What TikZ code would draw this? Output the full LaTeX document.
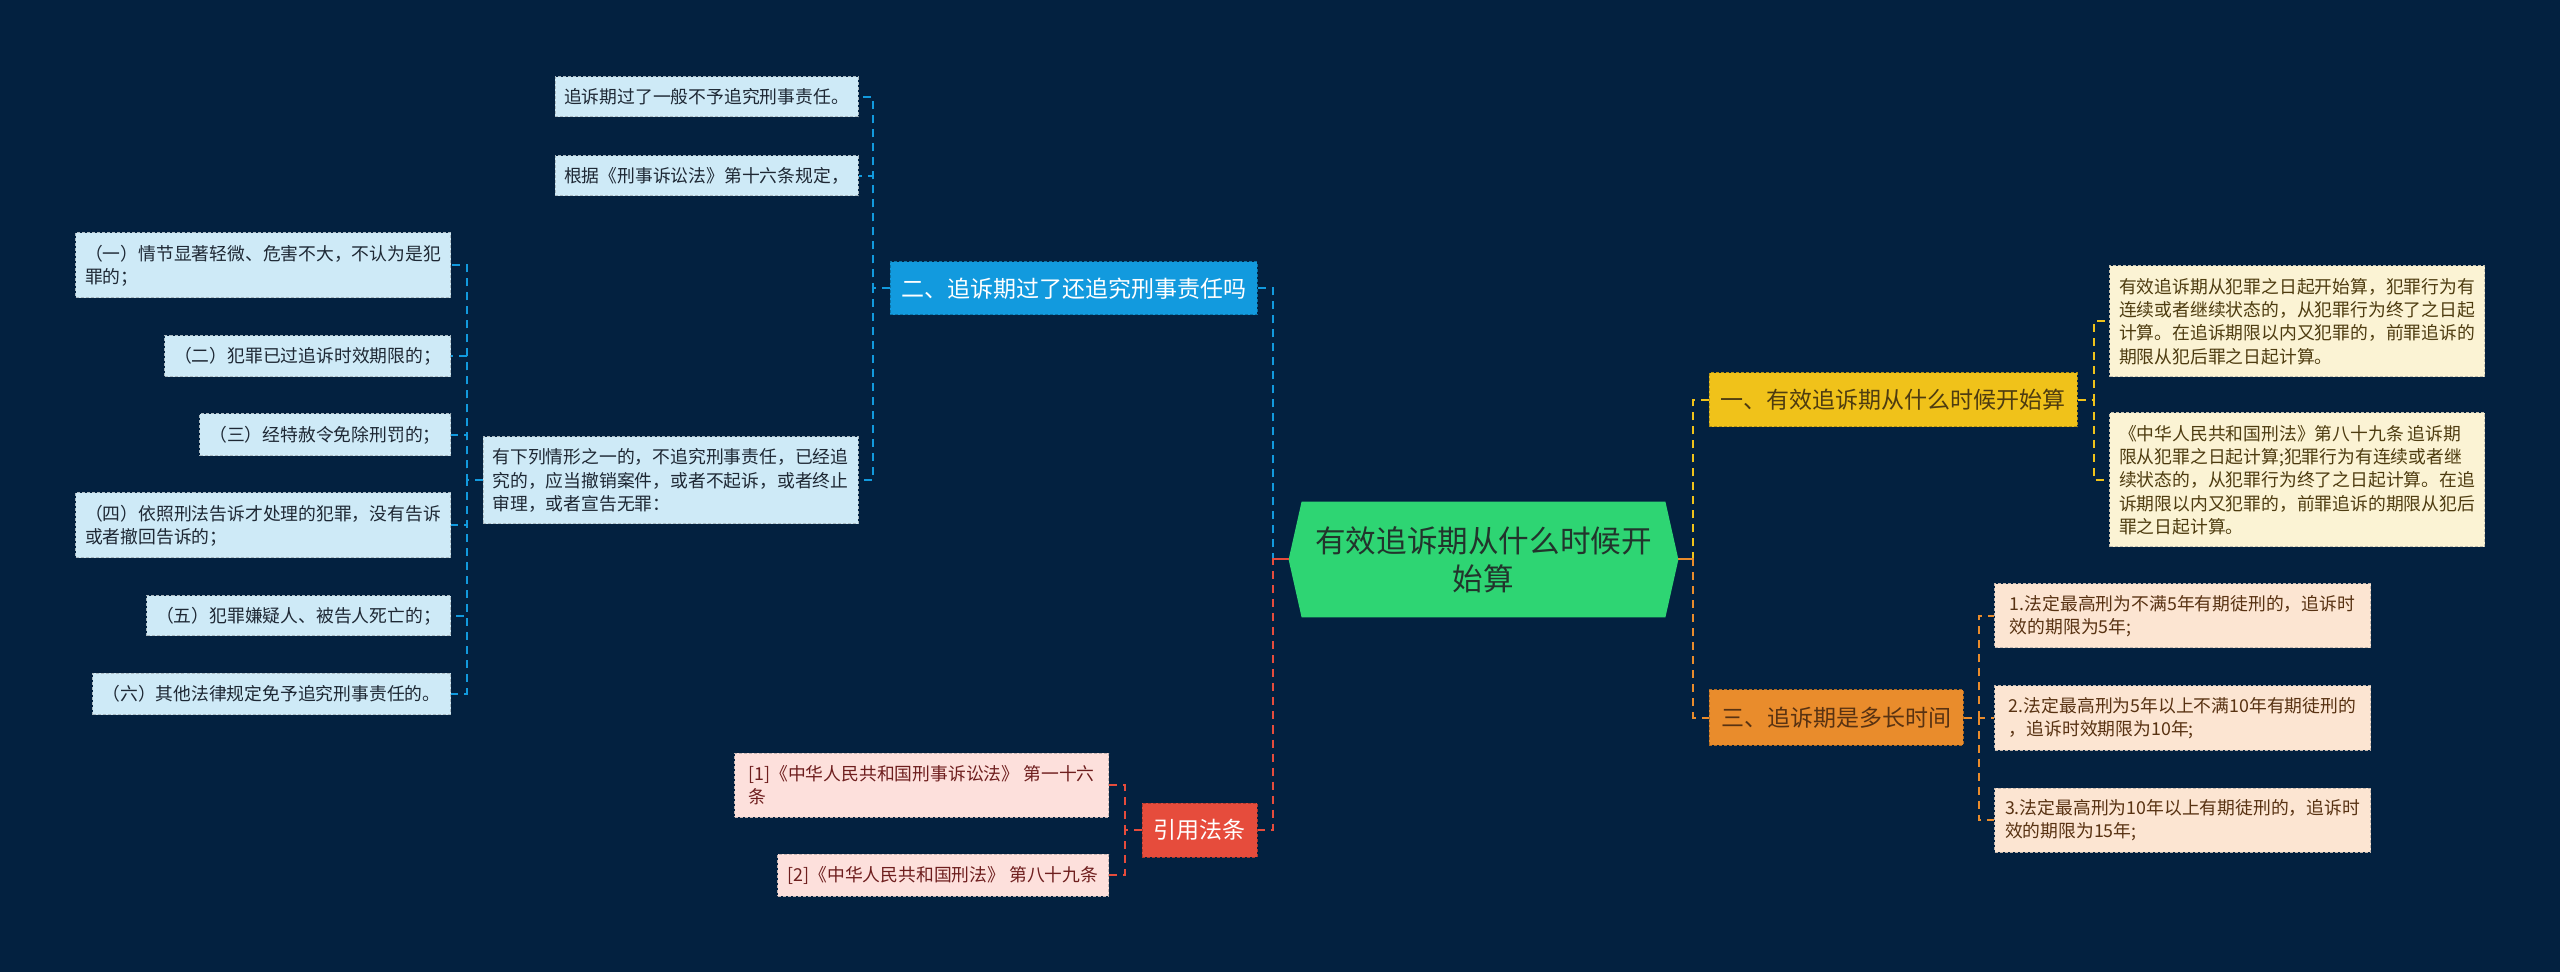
\documentclass[tikz,border=0pt]{standalone}
\usepackage{fontspec}
\setmainfont{Noto Sans CJK SC}
\usepackage{tikz}
\usetikzlibrary{backgrounds,calc}
\definecolor{navybg}{RGB}{3,33,64}
\definecolor{rootgreen}{RGB}{46,213,115}
\definecolor{rootink}{RGB}{34,52,44}
\definecolor{bluebranch}{RGB}{18,154,222}
\definecolor{blueleaf}{RGB}{206,234,247}
\definecolor{blueink}{RGB}{30,40,52}
\definecolor{yellowbranch}{RGB}{240,194,26}
\definecolor{yellowleaf}{RGB}{251,243,212}
\definecolor{yellowink}{RGB}{78,60,16}
\definecolor{orangebranch}{RGB}{233,140,44}
\definecolor{orangeleaf}{RGB}{252,229,210}
\definecolor{orangeink}{RGB}{88,50,18}
\definecolor{redbranch}{RGB}{230,76,60}
\definecolor{redleaf}{RGB}{253,224,220}
\definecolor{redink}{RGB}{110,30,30}
\tikzset{
  base/.style={align=left, inner sep=0pt, rectangle},
  rootbox/.style={base, align=center, text=rootink, minimum width=194.5pt, minimum height=57.5pt, font=\fontsize{15.3}{19}\selectfont},
  branch/.style={base, draw=#1!75!black, fill=#1, dash pattern=on 1.5pt off 1pt, line width=0.5pt, minimum height=27pt, font=\fontsize{11.5}{14}\selectfont},
  leaf/.style={base, draw=#1!55!gray, fill=#1, dash pattern=on 1.5pt off 1pt, line width=0.5pt, font=\fontsize{8.9}{11.65}\selectfont},
  bleaf/.style={leaf=blueleaf, text=blueink},
  yleaf/.style={leaf=yellowleaf, text=yellowink},
  oleaf/.style={leaf=orangeleaf, text=orangeink},
  rleaf/.style={leaf=redleaf, text=redink},
  link/.style={draw=#1, line width=1pt, dash pattern=on 4pt off 3pt},
  stub/.style={draw=#1, line width=1pt},
}
\begin{document}
\begin{tikzpicture}[x=0.5pt,y=-0.5pt]
  \useasboundingbox (0,0) rectangle (2560,972);
  \begin{scope}[on background layer]
    \fill[navybg] (0,0) rectangle (2560,972);
  \end{scope}
  \node[rootbox] (root) at (1483.5,559.5) {有效追诉期从什么时候开\\始算};
  \begin{scope}[on background layer]
    \fill[rootgreen] (root.west) -- ([xshift=6.5pt]root.north west) -- ([xshift=-6.5pt]root.north east) -- (root.east)
      -- ([xshift=-6.5pt]root.south east) -- ([xshift=6.5pt]root.south west) -- cycle;
  \end{scope}

  \node[branch=bluebranch, text=white, minimum width=183.5pt, minimum height=26.5pt] (q2) at (1073.5,288.5) {二、追诉期过了还追究刑事责任吗};
  \node[branch=redbranch, text=white, minimum width=57.5pt] (cite) at (1199.5,830) {引用法条};
  \node[branch=yellowbranch, text=yellowink, minimum width=184pt] (q1) at (1893,400) {一、有效追诉期从什么时候开始算};
  \node[branch=orangebranch, text=orangeink, minimum width=127pt, minimum height=27.5pt] (q3) at (1836,717.5) {三、追诉期是多长时间};

  \node[bleaf, minimum width=151.5pt, minimum height=20pt] (b1) at (706.5,97) {追诉期过了一般不予追究刑事责任。};
  \node[bleaf, minimum width=151.5pt, minimum height=20pt] (b2) at (706.5,176) {根据《刑事诉讼法》第十六条规定，};
  \node[bleaf, minimum width=187.5pt, minimum height=43.5pt] (b3) at (670.5,480.5) {有下列情形之一的，不追究刑事责任，已经追\\究的，应当撤销案件，或者不起诉，或者终止\\审理，或者宣告无罪：};
  \node[bleaf, anchor=east, minimum width=187.5pt, minimum height=32.5pt] (c1) at (451,265.5) {（一）情节显著轻微、危害不大，不认为是犯\\罪的；};
  \node[bleaf, anchor=east, minimum width=143pt, minimum height=20.5pt] (c2) at (451,356.5) {（二）犯罪已过追诉时效期限的；};
  \node[bleaf, anchor=east, minimum width=125.5pt, minimum height=21pt] (c3) at (451,435) {（三）经特赦令免除刑罚的；};
  \node[bleaf, anchor=east, minimum width=187.5pt, minimum height=32.5pt] (c4) at (451,525.5) {（四）依照刑法告诉才处理的犯罪，没有告诉\\或者撤回告诉的；};
  \node[bleaf, anchor=east, minimum width=152pt, minimum height=20pt] (c5) at (451,616) {（五）犯罪嫌疑人、被告人死亡的；};
  \node[bleaf, anchor=east, minimum width=179pt, minimum height=20.5pt] (c6) at (451,694) {（六）其他法律规定免予追究刑事责任的。};

  \node[rleaf, anchor=east, minimum width=187pt, minimum height=32pt] (r1) at (1109,785) {[1]《中华人民共和国刑事诉讼法》 第一十六\\条};
  \node[rleaf, anchor=east, minimum width=165.5pt, minimum height=21pt] (r2) at (1109,875) {[2]《中华人民共和国刑法》 第八十九条};

  \node[yleaf, anchor=west, minimum width=187.5pt, minimum height=55.5pt] (y1) at (2109,321.5) {有效追诉期从犯罪之日起开始算，犯罪行为有\\连续或者继续状态的，从犯罪行为终了之日起\\计算。在追诉期限以内又犯罪的，前罪追诉的\\期限从犯后罪之日起计算。};
  \node[yleaf, anchor=west, minimum width=187.5pt, minimum height=67pt] (y2) at (2109,480) {《中华人民共和国刑法》第八十九条 追诉期\\限从犯罪之日起计算;犯罪行为有连续或者继\\续状态的，从犯罪行为终了之日起计算。在追\\诉期限以内又犯罪的，前罪追诉的期限从犯后\\罪之日起计算。};

  \node[oleaf, anchor=west, minimum width=188pt, minimum height=32pt] (o1) at (1994,616) {1.法定最高刑为不满5年有期徒刑的，追诉时\\效的期限为5年;};
  \node[oleaf, anchor=west, minimum width=188pt, minimum height=32pt] (o2) at (1994,718) {2.法定最高刑为5年以上不满10年有期徒刑的\\，追诉时效期限为10年;};
  \node[oleaf, anchor=west, minimum width=188pt, minimum height=32pt] (o3) at (1994,820) {3.法定最高刑为10年以上有期徒刑的，追诉时\\效的期限为15年;};

  \draw[link=bluebranch] (root.west) -- ++(-16,0) |- (q2.east);
  \draw[link=redbranch] (root.west) -- ++(-16,0) |- (cite.east);
  \draw[stub=redbranch] (root.west) -- ++(-16,0);
  \draw[link=yellowbranch] (root.east) -- ++(15,0) |- (q1.west);
  \draw[link=orangebranch] (root.east) -- ++(15,0) |- (q3.west);
  \draw[stub=orangebranch] (root.east) -- ++(15,0);

  \foreach \leafname in {b1,b2,b3}
    \draw[link=bluebranch] (q2.west) -- ++(-17,0) |- (\leafname.east);
  \foreach \leafname in {c1,c2,c3,c4,c5,c6}
    \draw[link=bluebranch] (b3.west) -- ++(-16,0) |- (\leafname.east);
  \foreach \leafname in {r1,r2}
    \draw[link=redbranch] (cite.west) -- ++(-17,0) |- (\leafname.east);
  \foreach \leafname in {y1,y2}
    \draw[link=yellowbranch] (q1.east) -- ++(16,0) |- (\leafname.west);
  \foreach \leafname in {o1,o2,o3}
    \draw[link=orangebranch] (q3.east) -- ++(15,0) |- (\leafname.west);
\end{tikzpicture}
\end{document}
